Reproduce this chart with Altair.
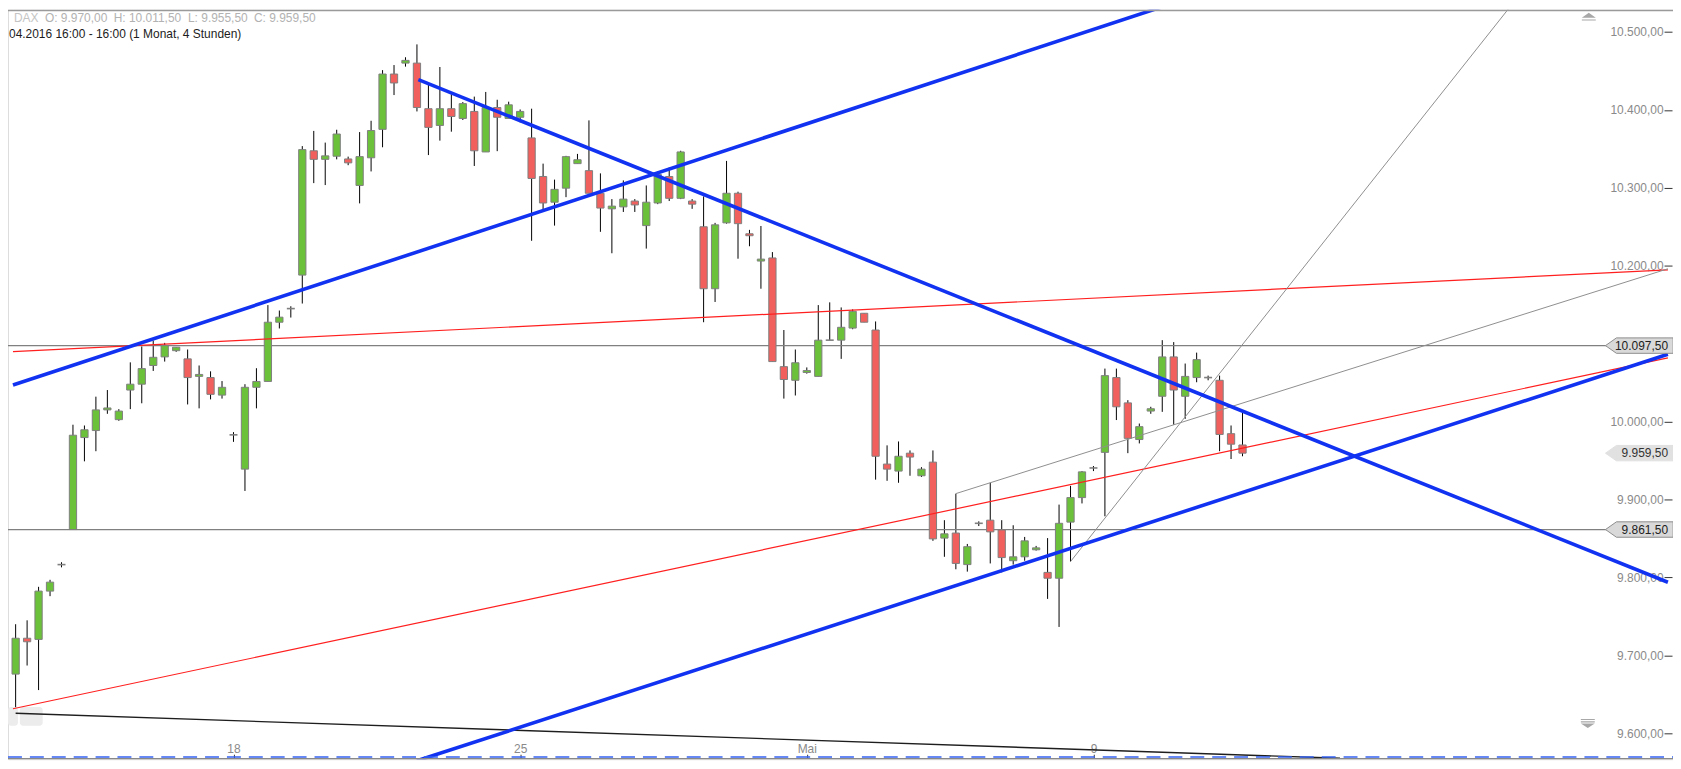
import altair as alt
import pandas as pd

# ---------------- data ----------------
opens = [9676, 9722, 9720.5, 9782.5, 9816.5, 9861.5, 9979.5, 9988.5, 10015, 10002.5,
         10040.5, 10048, 10072, 10083, 10091, 10080.5, 10058, 10056.5, 10034, 9983,
         9939, 10044, 10051.5, 10127.5, 10145, 10188, 10347.5, 10336.5, 10340.5, 10337,
         10303, 10338.5, 10375, 10446, 10460, 10460, 10401.5, 10380, 10401.5, 10389,
         10398, 10346, 10403, 10389, 10390.5, 10364, 10314.5, 10281.5, 10299.5, 10331,
         10322, 10293, 10273, 10275.5, 10283, 10251.5, 10280.5, 10314.5, 10286.5, 10283,
         10250, 10170.5, 10255, 10293, 10241, 10206, 10210, 10070.5, 10053, 10063,
         10058, 10104.5, 10104.5, 10120, 10139, 10117.5, 9945.5, 9936.5, 9959.5, 9930.5,
         9948, 9850.5, 9857, 9816.5, 9869.5, 9873.5, 9861, 9821.5, 9826.5, 9835.5,
         9806.5, 9799, 9871, 9902.5, 9940.5, 9960.5, 10056.5, 10024, 9977, 10013.5,
         10032.5, 10083, 10032.5, 10056.5, 10056.5, 10053, 9984.5, 9970]
highs = [9740, 9745, 9788, 9797, 9819.5, 9996, 9995, 10032, 10040.5, 10016,
         10076, 10096.5, 10104, 10101, 10095.5, 10092.5, 10072, 10064.5, 10052, 9986.5,
         10048, 10068.5, 10149.5, 10142.5, 10148, 10353.5, 10373, 10358, 10374.5, 10340,
         10371.5, 10386, 10451, 10457.5, 10467.5, 10484, 10432.5, 10455, 10420, 10410,
         10417, 10423, 10413, 10410.5, 10400.5, 10401.5, 10331, 10310.5, 10341, 10343.5,
         10386.5, 10318.5, 10285.5, 10309.5, 10285.5, 10303, 10321, 10326, 10347.5, 10285.5,
         10289, 10255, 10334.5, 10295, 10246, 10251, 10217.5, 10117.5, 10092.5, 10069.5,
         10149.5, 10153, 10146.5, 10144, 10139, 10128.5, 9969.5, 9974.5, 9963, 9941.5,
         9963, 9873.5, 9907.5, 9843, 9872, 9921.5, 9873.5, 9867, 9852, 9840.5,
         9850.5, 9893.5, 9917.5, 9936.5, 9943, 10068, 10068, 10027.5, 9997.5, 10019,
         10104.5, 10102, 10074.5, 10088.5, 10059, 10059, 9995, 10011.5]
lows = [9626, 9687, 9655.5, 9776, 9813, 9861.5, 9949, 9962, 10010, 10001,
        10016, 10023.5, 10065, 10077, 10089.5, 10022, 10017, 10028.5, 10029.5, 9974,
        9911, 10017, 10051.5, 10119.5, 10133.5, 10151.5, 10306, 10303.5, 10336.5, 10329,
        10280, 10321, 10352, 10419, 10455.5, 10398, 10342, 10360.5, 10372, 10387,
        10328, 10346, 10347, 10389, 10384, 10232, 10270.5, 10251.5, 10288, 10331,
        10293, 10243.5, 10216, 10269, 10269, 10222, 10279, 10283, 10285.5, 10273,
        10127.5, 10153.5, 10254, 10209, 10225, 10170.5, 10077, 10029.5, 10033.5, 10061.5,
        10058, 10104.5, 10080.5, 10118.5, 10127.5, 9925.5, 9924, 9921.5, 9930.5, 9929,
        9847, 9826.5, 9810.5, 9807.5, 9866, 9818, 9806.5, 9816.5, 9821.5, 9834.5,
        9772.5, 9736.5, 9820.5, 9895, 9936.5, 9878.5, 10002, 9959.5, 9972, 10010,
        10012.5, 9996, 10003.5, 10050.5, 10053, 9962, 9952, 9955.5]
closes = [9722, 9717.5, 9782.5, 9794, 9816.5, 9982.5, 9989.5, 10015, 10017.5, 10013.5,
          10048, 10068, 10082.5, 10097.5, 10095.5, 10056.5, 10060.5, 10035, 10044, 9983,
          10044, 10051.5, 10127.5, 10134, 10145, 10349, 10336.5, 10341, 10369, 10332,
          10340, 10373.5, 10446, 10434.5, 10463.5, 10403, 10377.5, 10401.5, 10391.5, 10408,
          10347.5, 10403, 10390.5, 10406.5, 10398, 10312, 10280.5, 10298, 10340, 10336,
          10293, 10274, 10276.5, 10285.5, 10278, 10281.5, 10317, 10286.5, 10346, 10279,
          10170.5, 10252.5, 10293, 10254, 10238.5, 10208.5, 10077, 10054, 10075.5, 10065.5,
          10104.5, 10104.5, 10121, 10141.5, 10127.5, 9955.5, 9939, 9955.5, 9954.5, 9939,
          9849.5, 9856, 9818, 9839.5, 9869.5, 9858.5, 9825.5, 9826.5, 9847, 9838,
          9799, 9869.5, 9902.5, 9935.5, 9940.5, 10059, 10019, 9978.5, 9993.5, 10016.5,
          10083, 10040.5, 10058, 10079.5, 10056.5, 9983.5, 9971, 9959.5]
candle_index = list(range(len(opens)))

x_tick_index = [19, 44, 69, 94]
x_tick_labels = ["18", "25", "Mai", "9"]
# 10.100,00 is hidden behind the 10.097,50 price tag in the reference
y_tick_values = [9600, 9700, 9800, 9900, 10000, 10200, 10300, 10400, 10500]
y_tick_labels = ["9.600,00", "9.700,00", "9.800,00", "9.900,00", "10.000,00",
                 "10.200,00", "10.300,00", "10.400,00", "10.500,00"]

# trend lines as (start index, start value, end index, end value)
blue_lines = [(-0.232, 10046.96, 101.0, 10537.1),
              (35.0, 9564.8, 144.1, 10086.4),
              (35.12, 10438.7, 144.1, 9793.9)]
red_lines = [(-0.232, 10089.9, 144.1, 10194.8),
             (-0.232, 9631.5, 144.1, 10081.7)]
grey_lines = [(82, 9907.6, 144.1, 10196.1),
              (92, 9820.4, 131, 10544.6)]
black_lines = [(0, 9625.8, 115.5, 9568.0)]

h_levels = [10097.5, 9861.5]
tag_values = [10097.5, 9861.5]
tag_labels = ["10.097,50", "9.861,50"]
last_value = [9959.5]
last_label = ["9.959,50"]

header_parts = ["DAX", "O: 9.970,00", "H: 10.011,50", "L: 9.955,50", "C: 9.959,50"]
header_line2 = "04.2016 16:00 - 16:00 (1 Monat, 4 Stunden)"

# ---------------- layout ----------------
W, H = 1673, 753
X_DOMAIN = [-0.232, 144.11]
Y_DOMAIN = [9566.8, 10528.4]
GREEN, RED, BODY_STROKE = "#6cc13b", "#f2605e", "#7f7f7f"
FONT = "Liberation Sans"


def cx(r):
    return r * W / 1681.0


def cy(r):
    return (r - 4) * H / 761.0


def label_expr(vals, labs):
    expr = "''"
    for v, l in reversed(list(zip(vals, labs))):
        expr = f"datum.value == {v} ? '{l}' : ({expr})"
    return expr


xs = alt.Scale(domain=X_DOMAIN, nice=False, zero=False)
ys = alt.Scale(domain=Y_DOMAIN, nice=False, zero=False)

df = pd.DataFrame({"i": candle_index, "o": opens, "h": highs, "l": lows, "c": closes})
df["dir"] = ["up" if c > o else ("down" if c < o else "flat") for o, c in zip(df.o, df.c)]

x_axis = alt.Axis(orient="top", offset=-752, values=x_tick_index,
                  labelExpr=label_expr(x_tick_index, x_tick_labels),
                  tickSize=4, tickColor="#333333", labelPadding=-1, domain=False, grid=False,
                  labelColor="#8a8a8a", labelFont=FONT, labelFontSize=12, title=None)
y_axis = alt.Axis(orient="left", offset=-1672, values=y_tick_values,
                  labelExpr=label_expr(y_tick_values, y_tick_labels),
                  tickSize=8, tickColor="#333333", labelPadding=1, domain=False, grid=False,
                  labelColor="#8a8a8a", labelFont=FONT, labelFontSize=12, title=None)

base = alt.Chart(df)

wicks = base.mark_rule(color="black", strokeWidth=1).encode(
    x=alt.X("i:Q", scale=xs, axis=x_axis),
    y=alt.Y("l:Q", scale=ys, axis=y_axis),
    y2="h:Q",
)

bodies = base.transform_filter("datum.dir != 'flat'").mark_bar(
    size=7.3, stroke=BODY_STROKE, strokeWidth=1, orient="vertical"
).encode(
    x=alt.X("i:Q", scale=xs),
    y=alt.Y("o:Q", scale=ys),
    y2="c:Q",
    fill=alt.Fill("dir:N", scale=alt.Scale(domain=["up", "down"], range=[GREEN, RED]), legend=None),
)

dojis = base.transform_filter("datum.dir == 'flat'").mark_tick(
    color="#7f7f7f", thickness=1.6, size=8, orient="horizontal", opacity=1
).encode(x=alt.X("i:Q", scale=xs), y=alt.Y("o:Q", scale=ys))


def lines_layer(lines, color, width, opacity=1.0):
    d = pd.DataFrame(lines, columns=["i1", "v1", "i2", "v2"])
    return alt.Chart(d).mark_rule(clip=True, color=color, strokeWidth=width, opacity=opacity).encode(
        x=alt.X("i1:Q", scale=xs), x2="i2:Q",
        y=alt.Y("v1:Q", scale=ys), y2="v2:Q",
    )


hlines = alt.Chart(pd.DataFrame({"v": h_levels})).mark_rule(color="#808080", strokeWidth=1.2).encode(
    y=alt.Y("v:Q", scale=ys))

red_layer = lines_layer(red_lines, "#ff1f1f", 1.2)
grey_layer = lines_layer(grey_lines, "#8e8e8e", 1.0)
black_layer = lines_layer(black_lines, "#1e1e1e", 1.4)
blue_layer = lines_layer(blue_lines, "#1232f2", 3.6)

# frame decorations
top_border = alt.Chart(pd.DataFrame({"a": [0]})).mark_rule(color="#9a9a9a", strokeWidth=1.5).encode(
    x=alt.value(0), x2=alt.value(W), y=alt.value(0.75))
bottom_line = alt.Chart(pd.DataFrame({"a": [0]})).mark_rule(color="#888888", strokeWidth=1.2).encode(
    x=alt.value(0), x2=alt.value(W), y=alt.value(752.4))
bottom_dash = alt.Chart(pd.DataFrame({"a": [0]})).mark_rule(
    color="#3562f2", strokeWidth=1.6, strokeDash=[14, 8]).encode(
    x=alt.value(0), x2=alt.value(W), y=alt.value(750.8))

ui_buttons = alt.Chart(pd.DataFrame({"a": [0]})).mark_rect(
    color="#ececec", cornerRadius=3).encode(
    x=alt.value(cx(12)), x2=alt.value(cx(35)), y=alt.value(cy(712)), y2=alt.value(cy(731)))
ui_button_left = alt.Chart(pd.DataFrame({"a": [0]})).mark_rect(
    color="#ececec", cornerRadius=3).encode(
    x=alt.value(0), x2=alt.value(cx(10)), y=alt.value(cy(712)), y2=alt.value(cy(731)))

arrow_up = "M -1 0.15 L 0 -0.55 L 1 0.15 Z M -1 0.4 L 1 0.4 L 1 0.55 L -1 0.55 Z"
arrow_down = "M -1 -0.55 L 1 -0.55 L 1 -0.4 L -1 -0.4 Z M -1 -0.2 L 1 -0.2 L 1 -0.05 L -1 -0.05 Z M -1 0.1 L 1 0.1 L 0 0.75 Z"
scroll_up = alt.Chart(pd.DataFrame({"a": [0]})).mark_point(
    shape=arrow_up, filled=True, color="#a8a8a8", size=196, opacity=1).encode(
    x=alt.value(cx(1596)), y=alt.value(cy(11)))
scroll_down = alt.Chart(pd.DataFrame({"a": [0]})).mark_point(
    shape=arrow_down, filled=True, color="#a8a8a8", size=196, opacity=1).encode(
    x=alt.value(cx(1595)), y=alt.value(cy(728)))

# price tags
tag_shape = "M -1 0 L -0.676 -0.228 L 1 -0.228 L 1 0.228 L -0.676 0.228 Z"
tags_df = pd.DataFrame({"v": tag_values, "t": tag_labels})
tags = alt.Chart(tags_df).mark_point(
    shape=tag_shape, filled=True, fill="#d9d9d9", stroke="#8c8c8c", strokeWidth=1,
    size=68 * 68, opacity=1).encode(x=alt.value(cx(1647)), y=alt.Y("v:Q", scale=ys))
tag_text = alt.Chart(tags_df).mark_text(
    align="right", baseline="middle", font=FONT, fontSize=12, color="#222222").encode(
    x=alt.value(cx(1676)), y=alt.Y("v:Q", scale=ys), text="t:N")
last_df = pd.DataFrame({"v": last_value, "t": last_label})
last_tag = alt.Chart(last_df).mark_point(
    shape=tag_shape, filled=True, fill="#e1e1e1", stroke="#e1e1e1", strokeWidth=1,
    size=68 * 68, opacity=1).encode(x=alt.value(cx(1647)), y=alt.Y("v:Q", scale=ys))
last_text = alt.Chart(last_df).mark_text(
    align="right", baseline="middle", font=FONT, fontSize=12, color="#333333").encode(
    x=alt.value(cx(1676)), y=alt.Y("v:Q", scale=ys), text="t:N")

# header texts
header_x = [6, 37.3, 106.7, 181.7, 248.3]
header_layers = []
for txt, hx in zip(header_parts, header_x):
    header_layers.append(
        alt.Chart(pd.DataFrame({"t": [txt]})).mark_text(
            align="left", baseline="middle", font=FONT, fontSize=12,
            color="#c4c4c4" if txt == "DAX" else "#b2b2b2").encode(
            x=alt.value(cx(hx)), y=alt.value(cy(12.7)), text="t:N"))
header_layers.append(
    alt.Chart(pd.DataFrame({"t": [header_line2]})).mark_text(
        align="left", baseline="middle", font=FONT, fontSize=12, color="#1c1c1c").encode(
        x=alt.value(cx(1)), y=alt.value(cy(28.7)), text="t:N"))

chart = alt.layer(
    wicks, ui_button_left, ui_buttons, hlines, bodies, dojis,
    red_layer, grey_layer, black_layer, blue_layer,
    top_border, bottom_line, bottom_dash, scroll_up, scroll_down,
    tags, tag_text, last_tag, last_text, *header_layers,
).properties(
    width=W, height=H, autosize=alt.AutoSizeParams(type="none"), padding=0,
).configure_view(stroke="transparent").configure(background="white")

chart.save("out.html", embed_options={"renderer": "svg", "actions": False})
